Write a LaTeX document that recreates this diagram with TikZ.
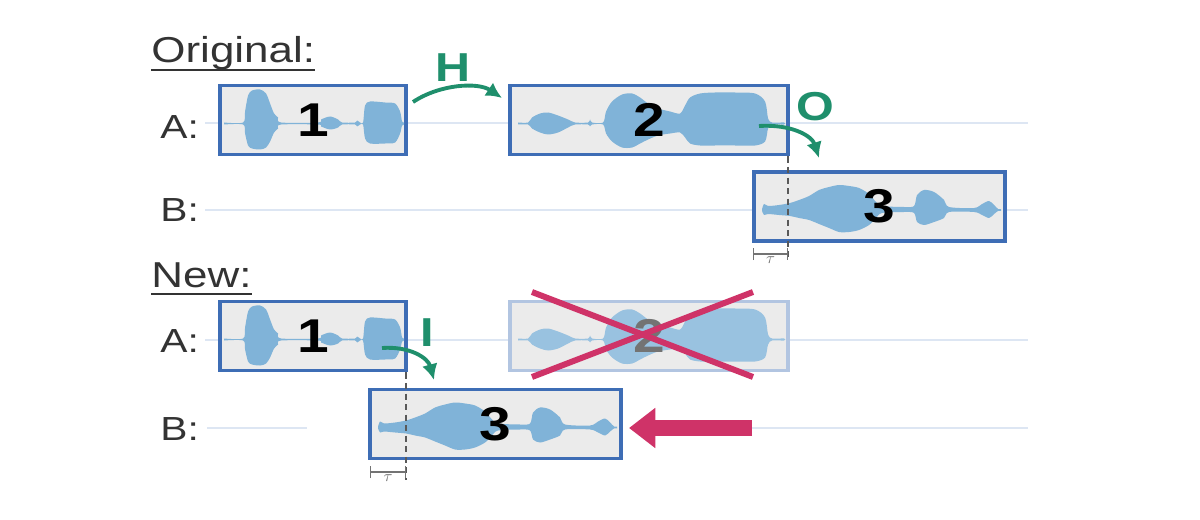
\documentclass[tikz,border=0pt]{standalone}
\usepackage{fontspec}
\setmainfont{Liberation Sans}
\usepackage{graphicx}
\usetikzlibrary{arrows.meta}

\definecolor{boxblue}{HTML}{3E6DB5}
\definecolor{boxgrey}{HTML}{EBEBEB}
\definecolor{wavecol}{HTML}{80B3D8}
\definecolor{trackcol}{HTML}{DDE6F3}
\definecolor{hopgreen}{HTML}{1F8F6C}
\definecolor{dropred}{HTML}{CF3368}

\newcommand\wideglyph[1]{\scalebox{1.2}[1]{#1}}
\newcommand\ulhead[1]{\setbox0\hbox{#1}\rlap{\rule[-4.6pt]{\wd0}{1.3pt}}\box0}

\newcommand\waveone{%
  \fill[wave] plot[smooth,tension=.5] coordinates {
    (4,-1) (23,-1) (25,-12) (28,-28) (32,-33) (40,-34) (46,-30) (50,-20)
    (54,-10) (58,-6) (61,-1) (98,-1) (101,-4) (110,-7) (118,-4) (122,-1)
    (135,-1) (137,-3) (140,-1) (143,-1) (145,-18) (150,-22) (165,-21)
    (175,-20) (180,-12) (182,-2) (184,-1)
    (184,1) (182,2) (180,10) (175,19) (165,20) (150,20) (145,15) (143,1)
    (140,1) (137,3) (135,1) (122,1) (118,4) (110,6) (101,3) (98,1) (61,1)
    (58,5) (54,9) (50,18) (46,24) (40,26) (32,25) (28,22) (25,10) (23,1) (4,1)
  } -- cycle;}
\newcommand\wavetwo{%
  \fill[wave] plot[smooth,tension=.5] coordinates {
    (8,-1) (18,-1) (22,-6) (30,-10) (38,-11) (48,-8) (58,-4) (65,-1)
    (78,-1) (80,-4) (82,-1) (93,-1) (96,-12) (102,-22) (112,-29) (122,-30)
    (130,-26) (138,-20) (148,-15) (160,-12) (170,-10) (175,-18) (180,-26)
    (190,-30) (205,-31) (225,-31) (245,-30) (255,-22) (258,-5) (262,-1) (274,-1)
    (274,1) (262,1) (258,5) (255,18) (245,22) (225,22) (205,22) (190,22)
    (180,20) (175,14) (170,9) (160,10) (148,12) (138,16) (130,20) (122,24)
    (112,24) (102,18) (96,10) (93,1) (82,1) (80,3) (78,1) (65,1) (58,4)
    (48,9) (38,11) (30,9) (22,5) (18,1) (8,1)
  } -- cycle;}
\newcommand\wavethree{%
  \fill[wave] plot[smooth,tension=.5] coordinates {
    (8,-1) (10,-6) (14,-4) (25,-5) (36,-7) (45,-10) (55,-14) (65,-20)
    (75,-23) (85,-25) (95,-24) (105,-22) (115,-16) (122,-8) (128,-4)
    (150,-3) (160,-4) (163,-15) (170,-20) (180,-18) (190,-10) (195,-3)
    (220,-2) (228,-6) (235,-9) (240,-5) (244,-1) (247,-1)
    (247,1) (244,1) (240,4) (235,8) (228,5) (220,2) (195,2) (190,8)
    (180,12) (170,15) (163,12) (160,3) (150,2) (128,3) (122,8) (115,15)
    (105,20) (95,22) (85,22) (75,18) (65,14) (55,10) (45,8) (36,6)
    (25,5) (14,4) (10,5) (8,1)
  } -- cycle;}

\begin{document}
\begin{tikzpicture}[
  x=0.02cm,
  y=-0.02cm,
  track/.style={trackcol, line width=1pt},
  wave/.style={fill=wavecol},
  segment/.style={
    draw=boxblue,
    fill=boxgrey,
    line width=2.2pt,
    minimum width=#1*0.02cm,
    minimum height=1.38cm,
    inner sep=0pt
  },
  faded/.style={draw=boxblue!40},
  digit/.style={font=\fontsize{27}{27}\selectfont\bfseries, inner sep=0pt},
  heading/.style={font=\fontsize{20.5}{20.5}\selectfont, text=black!80, xscale=1.22, inner sep=0pt},
  speaker/.style={font=\fontsize{19}{19}\selectfont, text=black!80, xscale=1.22, inner sep=0pt},
  hop/.style={font=\fontsize{23}{23}\selectfont\bfseries, text=hopgreen, xscale=1.2, inner sep=0pt},
  handoff/.style={hopgreen, line width=2.2pt, -{Latex[length=9pt,width=9pt]}},
  overlap/.style={black!65, line width=1.1pt, dash pattern=on 3.5pt off 2.5pt},
  taubar/.style={black!55, line width=.8pt, {Bar[width=7pt]}-{Bar[width=7pt]}},
  taulabel/.style={font=\fontsize{9}{9}\selectfont, text=black!55, below=0pt, inner sep=1pt},
  strike/.style={dropred, line width=3.4pt},
  shove/.style={dropred, line width=9.6pt, -{Triangle[length=15pt,width=22pt]}}
]
  \useasboundingbox (0,0) rectangle (1200,520);

  \draw[track] (205,123) -- (1028,123);
  \draw[track] (205,210) -- (1028,210);
  \draw[track] (205,340) -- (1028,340);
  \draw[track] (207,428) -- (307,428);
  \draw[track] (752,428) -- (1028,428);

  \node[heading, anchor=base west] (orig) at (151,63) {\ulhead{Original:}};
  \node[speaker, anchor=base west] (oa) at (160,139) {A:};
  \node[speaker, anchor=base west] (ob) at (160,222) {B:};
  \node[segment=186] (o1) at (313,120) {};
  \node[segment=278] (o2) at (649,120) {};
  \node[segment=251] (o3) at (879.5,206.5) {};
  \begin{scope}[shift={(o1.west)}, shift={(2,3.5)}] \waveone \end{scope}
  \begin{scope}[shift={(o2.west)}, shift={(2,3.5)}] \wavetwo \end{scope}
  \begin{scope}[shift={(o3.west)}, shift={(2,3.5)}] \wavethree \end{scope}
  \node[digit] (o1num) at (o1) {\wideglyph{1}};
  \node[digit] (o2num) at (o2) {\wideglyph{2}};
  \node[digit] (o3num) at (o3) {\wideglyph{3}};

  \node[hop] (hlab) at (453,68) {H};
  \coordinate (hfrom) at (413,102);
  \coordinate (hto) at (502,98);
  \draw[handoff] (hfrom) .. controls (440,84) and (478,82) .. (hto);
  \node[hop] (olab) at (815,107) {O};
  \coordinate (ofrom) at (759,126);
  \coordinate (oto) at (819,158);
  \draw[handoff] (ofrom) .. controls (792,124) and (812,136) .. (oto);

  \coordinate (ocut) at (788,260);
  \draw[overlap] (ocut |- o2.south) -- (ocut);
  \coordinate (otl) at (753,254);
  \coordinate (otr) at (788,254);
  \draw[taubar] (otl) -- node[taulabel] (otau) {$\tau$} (otr);

  \node[heading, anchor=base west] (new) at (151,287) {\ulhead{New:}};
  \node[speaker, anchor=base west] (na) at (160,352) {A:};
  \node[speaker, anchor=base west] (nb) at (160,440) {B:};
  \node[segment=186] (n1) at (313,336) {};
  \node[segment=278, faded] (n2) at (649,336) {};
  \node[segment=251] (n3) at (495.5,424) {};
  \begin{scope}[shift={(n1.west)}, shift={(2,3.5)}] \waveone \end{scope}
  \begin{scope}[shift={(n2.west)}, shift={(2,3.5)}, wave/.append style={fill=wavecol!80}] \wavetwo \end{scope}
  \begin{scope}[shift={(n3.west)}, shift={(2,3.5)}] \wavethree \end{scope}
  \node[digit] (n1num) at (n1) {\wideglyph{1}};
  \node[digit, text=black!55] (n2num) at (n2) {\wideglyph{2}};
  \node[digit] (n3num) at (n3) {\wideglyph{3}};

  \coordinate (xa) at (532,292);
  \coordinate (xb) at (753,377);
  \coordinate (xc) at (532,377);
  \coordinate (xd) at (753,292);
  \draw[strike] (xa) -- (xb);
  \draw[strike] (xc) -- (xd);

  \node[hop] (ilab) at (427,333) {I};
  \coordinate (ifrom) at (382,348);
  \coordinate (ito) at (434,380);
  \draw[handoff] (ifrom) .. controls (410,346) and (428,358) .. (ito);

  \coordinate (ncut) at (406,480);
  \draw[overlap] (ncut |- n1.south) -- (ncut);
  \coordinate (ntl) at (370,472);
  \coordinate (ntr) at (406,472);
  \draw[taubar] (ntl) -- node[taulabel] (ntau) {$\tau$} (ntr);

  \coordinate (pushfrom) at (752,428);
  \coordinate (pushto) at (629,428);
  \draw[shove] (pushfrom) -- (pushto);
\end{tikzpicture}
\end{document}
